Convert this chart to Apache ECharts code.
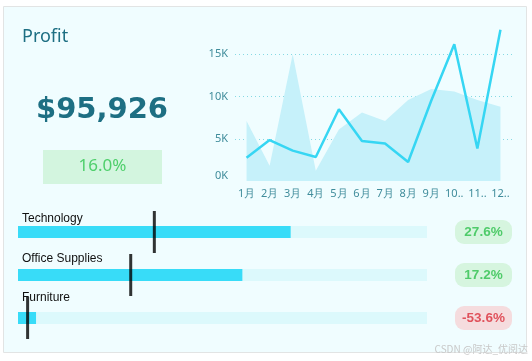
<!DOCTYPE html>
<html>
<head>
<meta charset="utf-8">
<script src="https://cdn.jsdelivr.net/npm/echarts@6/dist/echarts.min.js"></script>
<style>
html,body{margin:0;padding:0;background:#fff;}
#c{width:532px;height:361px;}
</style>
</head>
<body>
<div id="c"></div>
<script>
// ---- data ----
const months = ['1月','2月','3月','4月','5月','6月','7月','8月','9月','10月','11月','12月'];
const profitLine = [2750, 4850, 3600, 2850, 8500, 4750, 4450, 2250, 9500, 16200, 3850, 17900];
const profitArea = [7100, 1800, 15000, 1200, 6100, 8100, 7100, 9600, 10900, 10600, 9600, 8800];
const yTickLabels = ['0K', '5K', '10K', '15K'];
const categories = ['Technology', 'Office Supplies', 'Furniture'];
const categoryProfit = [50800, 41800, 3360];
const categoryTarget = [25400, 21000, 1790];
const categoryGrowth = [27.6, 17.2, -53.6];
const totalProfit = 95926;
const totalGrowth = 16.0;
const titleText = 'Profit';
const watermark = 'CSDN @阿达_优阅达';

const chart = echarts.init(document.getElementById('c'), null, {renderer: 'canvas'});

const teal = '#1d6f83';
const axisColor = '#3f8c9b';

const option = {
  backgroundColor: '#ffffff',
  animation: false,
  graphic: [
    {type: 'rect', z: -10, shape: {x: 3.5, y: 6.5, width: 523, height: 346}, style: {fill: '#f0fdff', stroke: '#e2e4e4', lineWidth: 1}},
    {type: 'text', x: 22, y: 37, style: {text: titleText, fill: teal, font: '18px "Noto Sans"', textVerticalAlign: 'middle'}},
    {type: 'text', x: 102, y: 110.5, style: {text: '$' + totalProfit.toLocaleString('en-US'), fill: teal, font: 'bold 29px "DejaVu Sans"', textAlign: 'center', textVerticalAlign: 'middle'}},
    {type: 'rect', shape: {x: 43, y: 150, width: 119, height: 34}, style: {fill: '#d3f5df'}},
    {type: 'text', x: 102.5, y: 166.5, style: {text: totalGrowth.toFixed(1) + '%', fill: '#4fcf6c', font: '17px "Noto Sans"', textAlign: 'center', textVerticalAlign: 'middle'}},
    {type: 'text', x: 528, y: 349, style: {text: watermark, fill: '#c8c8c8', font: '10px "Noto Sans CJK SC"', textAlign: 'right', textVerticalAlign: 'middle'}}
  ],
  grid: [
    {left: 235, right: 20, top: 29, bottom: 180},
    {left: 18, right: 105, top: 210.5, bottom: 21.5},
    {left: 22, right: 300, top: 198.5, bottom: 43}
  ],
  xAxis: [
    {gridIndex: 0, type: 'category', data: months, boundaryGap: true,
     axisLine: {show: false}, axisTick: {show: false},
     axisLabel: {interval: 0, color: axisColor, fontSize: 11, fontFamily: 'Noto Sans', margin: 7, width: 23, overflow: 'truncate', ellipsis: '..'}},
    {gridIndex: 1, type: 'value', min: 0, max: 76200, show: false},
    {gridIndex: 2, type: 'value', min: 0, max: 1, show: false}
  ],
  yAxis: [
    {gridIndex: 0, type: 'value', min: 0, max: 18000, interval: 5000,
     axisLine: {show: false}, axisTick: {show: false},
     splitLine: {show: true, showMinLine: false, showMaxLine: false, lineStyle: {color: '#86d9e3', type: [1, 3], width: 1}},
     axisLabel: {showMaxLabel: false, color: axisColor, fontSize: 11, fontFamily: 'Noto Sans', margin: 7,
       formatter: function (v) {
         const i = Math.round(v / 5000);
         if (v % 5000 !== 0 || i >= yTickLabels.length) return '';
         return i === 0 ? '{z|' + yTickLabels[0] + '}' : yTickLabels[i];
       },
       rich: {z: {color: axisColor, fontSize: 11, fontFamily: 'Noto Sans', padding: [0, 0, 10, 0]}}}},
    {gridIndex: 1, type: 'category', data: categories, inverse: true, show: false},
    {gridIndex: 1, type: 'category', data: categories, inverse: true, position: 'right',
     axisLine: {show: false}, axisTick: {show: false},
     axisLabel: {margin: 28, align: 'left',
       formatter: function (v, i) {
         const g = categoryGrowth[i];
         return (g >= 0 ? '{g|' : '{r|') + g.toFixed(1) + '%}';
       },
       rich: {
         g: {width: 57, height: 24, lineHeight: 24, align: 'center', backgroundColor: '#d6f5df', borderRadius: 9, color: '#4fcb6a', fontSize: 13.5, fontWeight: 'bold', fontFamily: 'Liberation Sans'},
         r: {width: 57, height: 24, lineHeight: 24, align: 'center', backgroundColor: '#f5dcde', borderRadius: 9, color: '#e0525c', fontSize: 13.5, fontWeight: 'bold', fontFamily: 'Liberation Sans'}
       }}},
    {gridIndex: 2, type: 'category', data: categories, inverse: true,
     axisLine: {show: false}, axisTick: {show: false},
     axisLabel: {inside: true, margin: 0, align: 'left', color: '#111', fontSize: 12, fontFamily: 'Liberation Sans'}}
  ],
  series: [
    {type: 'line', xAxisIndex: 0, yAxisIndex: 0, data: profitArea, symbol: 'none', silent: true,
     lineStyle: {width: 0, opacity: 0}, areaStyle: {color: '#c6f1fa', opacity: 1}, z: 1},
    {type: 'line', xAxisIndex: 0, yAxisIndex: 0, data: profitLine, symbol: 'none',
     lineStyle: {color: '#36d6f3', width: 2.5}, z: 3},
    {type: 'bar', xAxisIndex: 1, yAxisIndex: 1, data: categoryProfit, barWidth: 12,
     itemStyle: {color: '#38dcf8'}, showBackground: true, backgroundStyle: {color: '#dcf9fc'}},
    {type: 'scatter', xAxisIndex: 1, yAxisIndex: 1, symbol: 'rect', symbolSize: [3, 42],
     itemStyle: {color: '#000000'}, z: 5,
     data: categoryTarget.map(function (v, i) { return [v, i]; })}
  ]
};
chart.setOption(option);
</script>
</body>
</html>
